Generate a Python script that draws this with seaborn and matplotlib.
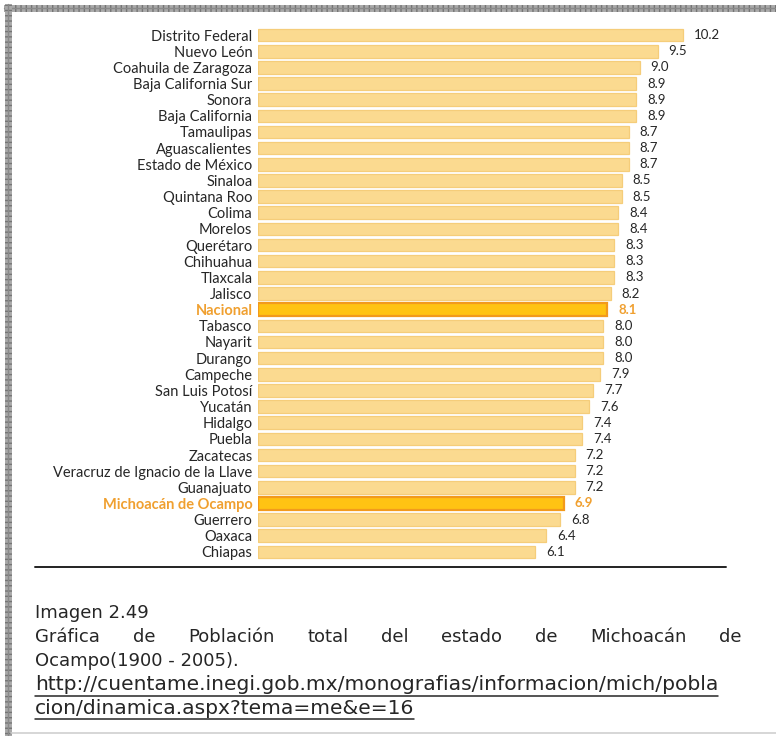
import numpy as np
import pandas as pd
import matplotlib
matplotlib.use("Agg")
import matplotlib.pyplot as plt
from matplotlib import font_manager
from matplotlib.lines import Line2D
import seaborn as sns

# Average years of schooling by state
states = [
    "Distrito Federal", "Nuevo León", "Coahuila de Zaragoza", "Baja California Sur",
    "Sonora", "Baja California", "Tamaulipas", "Aguascalientes", "Estado de México",
    "Sinaloa", "Quintana Roo", "Colima", "Morelos", "Querétaro", "Chihuahua",
    "Tlaxcala", "Jalisco", "Nacional", "Tabasco", "Nayarit", "Durango", "Campeche",
    "San Luis Potosí", "Yucatán", "Hidalgo", "Puebla", "Zacatecas",
    "Veracruz de Ignacio de la Llave", "Guanajuato", "Michoacán de Ocampo",
    "Guerrero", "Oaxaca", "Chiapas",
]
values = [
    10.2, 9.5, 9.0, 8.9, 8.9, 8.9, 8.7, 8.7, 8.7, 8.5, 8.5, 8.4, 8.4, 8.3, 8.3,
    8.3, 8.2, 8.1, 8.0, 8.0, 8.0, 7.9, 7.7, 7.6, 7.4, 7.4, 7.2, 7.2, 7.2, 6.9,
    6.8, 6.4, 6.1,
]
value_labels = [f"{v:.1f}" for v in values]
highlighted = ["Nacional", "Michoacán de Ocampo"]

caption_title = "Imagen 2.49"
caption_words = "Gráfica de Población total del estado de Michoacán de".split()
caption_line2 = "Ocampo(1900 - 2005)."
url_lines = [
    "http://cuentame.inegi.gob.mx/monografias/informacion/mich/pobla",
    "cion/dinamica.aspx?tema=me&e=16",
]

available = {f.name for f in font_manager.fontManager.ttflist}
label_font = "Lato" if "Lato" in available else "DejaVu Sans"
caption_font = "DejaVu Sans"

sns.set_theme(style="white")
plt.rcParams["font.family"] = [label_font, "DejaVu Sans"]
plt.rcParams["lines.scale_dashes"] = False

W, H = 776, 736
fig = plt.figure(figsize=(W / 100, H / 100), dpi=100)
fig.patch.set_facecolor("white")

BAR_FACE = "#FBDA90"
BAR_EDGE = "#F5CD7A"
HI_FACE = "#FFC313"
HI_EDGE = "#F29A1C"
HI_TEXT = "#F0A030"
TEXT = "#262626"

# axes placed in pixel terms
ax_left, ax_right = 258, 730
ax_top, ax_bottom = 27, 560
ax = fig.add_axes([ax_left / W, 1 - ax_bottom / H,
                   (ax_right - ax_left) / W, (ax_bottom - ax_top) / H])

df = pd.DataFrame({"estado": states, "valor": values})
sns.barplot(data=df, x="valor", y="estado", orient="h", color=BAR_FACE,
            width=0.78, saturation=1, ax=ax, order=states)

# truncated axis: every bar starts from a common baseline
BASE = -1.57
px_per_unit = 36.1
ax.set_xlim(BASE, BASE + (ax_right - ax_left) / px_per_unit)
ax.set_ylim(len(states) - 0.5, -0.5)

for p in ax.patches:
    idx = int(round(p.get_y() + p.get_height() / 2))
    v = values[idx]
    p.set_x(BASE)
    p.set_width(v - BASE)
    if states[idx] in highlighted:
        p.set_facecolor(HI_FACE)
        p.set_edgecolor(HI_EDGE)
        p.set_linewidth(1.6)
    else:
        p.set_edgecolor(BAR_EDGE)
        p.set_linewidth(0.9)

for i, (v, lab) in enumerate(zip(values, value_labels)):
    hi = states[i] in highlighted
    ax.annotate(lab, xy=(v, i), xytext=(8, 0), textcoords="offset points",
                ha="left", va="center", fontsize=9.5,
                color=HI_TEXT if hi else TEXT,
                fontweight="bold" if hi else "normal")

ax.set_xlabel("")
ax.set_ylabel("")
ax.set_xticks([])
ax.tick_params(axis="y", length=0, pad=4, labelsize=10.5, labelcolor=TEXT)
for t in ax.get_yticklabels():
    if t.get_text() in highlighted:
        t.set_color(HI_TEXT)
        t.set_fontweight("bold")
for s in ax.spines.values():
    s.set_visible(False)
ax.set_facecolor("none")

# rule under the chart
fig.add_artist(Line2D([35 / W, 726 / W], [1 - 567 / H] * 2, color="#222222", lw=1.4))

# frame: checkered band on top and left, thin gray line at the bottom
for xs, ys in [([4 / W, 1], [1 - 7.5 / H] * 2), ([7.5 / W] * 2, [1 - 4 / H, 0])]:
    fig.add_artist(Line2D(xs, ys, color="#a9a9a9", lw=5.0, solid_capstyle="butt"))
    fig.add_artist(Line2D(xs, ys, color="#747474", lw=5.0, linestyle=(0, (1.0, 2.8)),
                          dash_capstyle="butt"))
    fig.add_artist(Line2D(xs, ys, color="#8a8a8a", lw=1.0))
fig.add_artist(Line2D([11 / W, 1], [1 - 733 / H] * 2, color="#cfcfcf", lw=1.2))

# caption block
renderer = fig.canvas.get_renderer()
cap_left, cap_right = 35, 742
cap_size = 13
url_size = 14.6


def px_y(y):
    return 1 - y / H


fig.text(cap_left / W, px_y(613), caption_title, fontsize=cap_size, family=caption_font,
         color=TEXT, va="center", ha="left")

# justified line
word_artists = [fig.text(0, px_y(637), w, fontsize=cap_size, family=caption_font,
                         color=TEXT, va="center", ha="left") for w in caption_words]
widths = [a.get_window_extent(renderer).width for a in word_artists]
gap = ((cap_right - cap_left) - sum(widths)) / (len(widths) - 1)
x = cap_left
for a, w in zip(word_artists, widths):
    a.set_x(x / W)
    x += w + gap

fig.text(cap_left / W, px_y(661), caption_line2, fontsize=cap_size, family=caption_font,
         color=TEXT, va="center", ha="left")

for line, y in zip(url_lines, [685, 708]):
    t = fig.text(cap_left / W, px_y(y), line, fontsize=url_size, family=caption_font,
                 color=TEXT, va="center", ha="left")
    ext = t.get_window_extent(renderer)
    fig.add_artist(Line2D([ext.x0 / W, ext.x1 / W], [px_y(y + 10.5)] * 2,
                          color=TEXT, lw=1.1))

fig.savefig("out.png", dpi=100, facecolor="white")
